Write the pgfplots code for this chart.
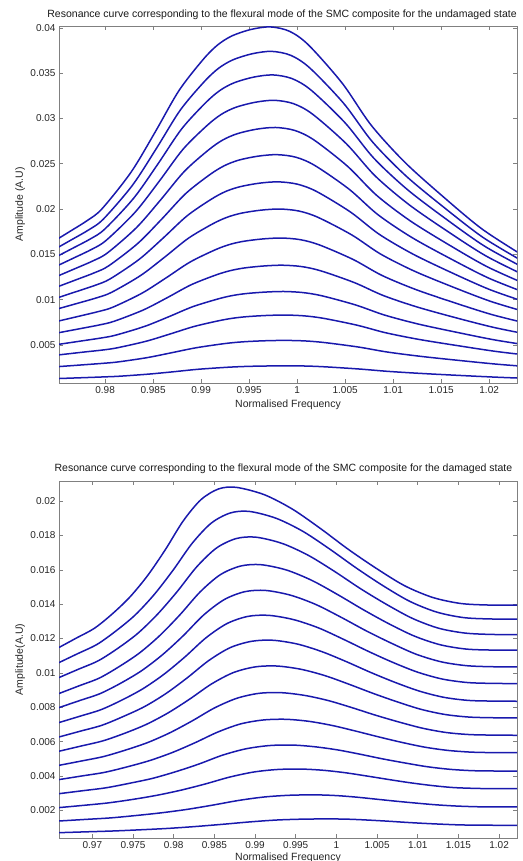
\documentclass[border=0pt]{standalone}
\usepackage{fontspec}
\setmainfont{Liberation Sans}
\usepackage{pgfplots}
\pgfplotsset{compat=1.18}
\definecolor{mblue}{rgb}{0.1,0.1,0.68}
\definecolor{axgray}{gray}{0.5}
\pgfplotsset{
  curvestyle/.style={mblue, solid, line width=1.5pt, smooth, mark=none},
  mystyle/.style={
    scale only axis, width=458pt, height=357pt,
    scaled ticks=false,
    axis line style={axgray, line width=0.6pt},
    tick style={axgray, line width=0.6pt},
    tick align=inside, major tick length=4pt,
    xticklabel pos=lower, yticklabel pos=left,
    xtick pos=both, ytick pos=both,
    tick label style={font=\fontsize{10}{12}\selectfont, text=black!85},
    label style={font=\fontsize{10.5}{12}\selectfont, text=black!85},
    title style={font=\fontsize{10.5}{12}\selectfont, text=black!90, anchor=center, yshift=-6pt},
    cycle list={curvestyle\\},
    clip=true,
  }
}
\begin{document}
\begin{tikzpicture}
\path[use as bounding box] (0pt,0pt) rectangle (522pt,-861pt);
% ---------------- undamaged ----------------
\begin{axis}[mystyle,
  at={(59pt,-26pt)}, anchor=north west,
  xmin=0.9752, xmax=1.0229, ymin=0.0008, ymax=0.0402,
  xtick={0.98,0.985,0.99,0.995,1,1.005,1.01,1.015,1.02},
  xticklabels={0.98,0.985,0.99,0.995,1,1.005,1.01,1.015,1.02},
  ytick={0.005,0.01,0.015,0.02,0.025,0.03,0.035,0.04},
  yticklabels={0.005,0.01,0.015,0.02,0.025,0.03,0.035,0.04},
  title={Resonance curve corresponding to the flexural mode of the SMC composite for the undamaged state},
  title style={at={(axis description cs:0.487,1.031)}},
  xlabel={Normalised Frequency},
  xlabel style={at={(axis description cs:0.5,-0.062)}, anchor=center},
  ylabel={Amplitude (A.U)},
  ylabel style={at={(axis description cs:-0.085,0.5)}, anchor=center},
]
\addplot[curvestyle] coordinates {(0.9727,0.01516) (0.9762,0.01744) (0.9782,0.01877) (0.9797,0.02005) (0.9827,0.02406) (0.9852,0.02847) (0.9877,0.03308) (0.9902,0.03649) (0.9917,0.03809) (0.9932,0.0391) (0.9952,0.03982) (0.9972,0.0401) (0.9992,0.03962) (1.0012,0.03809) (1.0047,0.03388) (1.0077,0.02927) (1.0112,0.02518) (1.0152,0.02137) (1.0192,0.01784) (1.0232,0.01508)};
\addplot[curvestyle] coordinates {(0.97284,0.01441) (0.97634,0.01651) (0.97834,0.01773) (0.97984,0.01891) (0.98284,0.02261) (0.98534,0.02668) (0.98784,0.03093) (0.99034,0.03407) (0.99184,0.03555) (0.99334,0.03648) (0.99534,0.03714) (0.99734,0.0374) (0.99934,0.03696) (1.00134,0.03555) (1.00484,0.03167) (1.00784,0.02742) (1.01134,0.02365) (1.01534,0.02014) (1.01934,0.01688) (1.02334,0.01433)};
\addplot[curvestyle] coordinates {(0.97298,0.01366) (0.97648,0.01559) (0.97848,0.01671) (0.97998,0.0178) (0.98298,0.0212) (0.98548,0.02494) (0.98798,0.02885) (0.99048,0.03174) (0.99198,0.0331) (0.99348,0.03395) (0.99548,0.03456) (0.99748,0.0348) (0.99948,0.03439) (1.00148,0.0331) (1.00498,0.02953) (1.00798,0.02562) (1.01148,0.02215) (1.01548,0.01892) (1.01948,0.01593) (1.02348,0.01359)};
\addplot[curvestyle] coordinates {(0.97312,0.01278) (0.97662,0.01454) (0.97862,0.01556) (0.98012,0.01655) (0.98312,0.01964) (0.98562,0.02304) (0.98812,0.0266) (0.99062,0.02922) (0.99212,0.03046) (0.99362,0.03123) (0.99562,0.03178) (0.99762,0.032) (0.99962,0.03163) (1.00162,0.03046) (1.00512,0.02721) (1.00812,0.02366) (1.01162,0.02051) (1.01562,0.01757) (1.01962,0.01485) (1.02362,0.01272)};
\addplot[curvestyle] coordinates {(0.97326,0.01179) (0.97676,0.01337) (0.97876,0.01429) (0.98026,0.01517) (0.98326,0.01794) (0.98576,0.02098) (0.98826,0.02416) (0.99076,0.02651) (0.99226,0.02762) (0.99376,0.02831) (0.99576,0.02881) (0.99776,0.029) (0.99976,0.02867) (1.00176,0.02762) (1.00526,0.02471) (1.00826,0.02153) (1.01176,0.01871) (1.01576,0.01608) (1.01976,0.01365) (1.02376,0.01174)};
\addplot[curvestyle] coordinates {(0.9734,0.01076) (0.9769,0.01216) (0.9789,0.01297) (0.9804,0.01375) (0.9834,0.0162) (0.9859,0.01889) (0.9884,0.02171) (0.9909,0.02379) (0.9924,0.02477) (0.9939,0.02539) (0.9959,0.02583) (0.9979,0.026) (0.9999,0.02571) (1.0019,0.02477) (1.0054,0.0222) (1.0084,0.01939) (1.0119,0.01689) (1.0159,0.01456) (1.0199,0.0124) (1.0239,0.01071)};
\addplot[curvestyle] coordinates {(0.97354,0.00968) (0.97704,0.0109) (0.97904,0.01161) (0.98054,0.0123) (0.98354,0.01444) (0.98604,0.01679) (0.98854,0.01925) (0.99104,0.02107) (0.99254,0.02193) (0.99404,0.02246) (0.99604,0.02285) (0.99804,0.023) (1.00004,0.02274) (1.00204,0.02193) (1.00554,0.01968) (1.00854,0.01722) (1.01204,0.01504) (1.01604,0.013) (1.02004,0.01112) (1.02404,0.00964)};
\addplot[curvestyle] coordinates {(0.97368,0.00857) (0.97718,0.00961) (0.97918,0.01022) (0.98068,0.01081) (0.98368,0.01265) (0.98618,0.01467) (0.98868,0.01678) (0.99118,0.01835) (0.99268,0.01908) (0.99418,0.01954) (0.99618,0.01987) (0.99818,0.02) (1.00018,0.01978) (1.00218,0.01908) (1.00568,0.01715) (1.00868,0.01504) (1.01218,0.01316) (1.01618,0.01141) (1.02018,0.0098) (1.02418,0.00853)};
\addplot[curvestyle] coordinates {(0.97382,0.00731) (0.97732,0.00818) (0.97932,0.00869) (0.98082,0.00917) (0.98382,0.0107) (0.98632,0.01238) (0.98882,0.01413) (0.99132,0.01543) (0.99282,0.01604) (0.99432,0.01642) (0.99632,0.01669) (0.99832,0.0168) (1.00032,0.01662) (1.00232,0.01604) (1.00582,0.01444) (1.00882,0.01268) (1.01232,0.01113) (1.01632,0.00968) (1.02032,0.00834) (1.02432,0.00728)};
\addplot[curvestyle] coordinates {(0.97396,0.00611) (0.97746,0.00681) (0.97946,0.00722) (0.98096,0.00762) (0.98396,0.00885) (0.98646,0.01021) (0.98896,0.01164) (0.99146,0.01269) (0.99296,0.01318) (0.99446,0.01349) (0.99646,0.01371) (0.99846,0.0138) (1.00046,0.01365) (1.00246,0.01318) (1.00596,0.01188) (1.00896,0.01046) (1.01246,0.0092) (1.01646,0.00802) (1.02046,0.00694) (1.02446,0.00608)};
\addplot[curvestyle] coordinates {(0.9741,0.0049) (0.9776,0.00545) (0.9796,0.00577) (0.9811,0.00608) (0.9841,0.00704) (0.9866,0.0081) (0.9891,0.00921) (0.9916,0.01003) (0.9931,0.01042) (0.9946,0.01066) (0.9966,0.01083) (0.9986,0.0109) (1.0006,0.01078) (1.0026,0.01042) (1.0061,0.00941) (1.0091,0.0083) (1.0126,0.00731) (1.0166,0.0064) (1.0206,0.00555) (1.0246,0.00488)};
\addplot[curvestyle] coordinates {(0.97424,0.00379) (0.97774,0.00421) (0.97974,0.00444) (0.98124,0.00468) (0.98424,0.0054) (0.98674,0.0062) (0.98924,0.00703) (0.99174,0.00765) (0.99324,0.00794) (0.99474,0.00812) (0.99674,0.00825) (0.99874,0.0083) (1.00074,0.00821) (1.00274,0.00794) (1.00624,0.00718) (1.00924,0.00634) (1.01274,0.0056) (1.01674,0.00492) (1.02074,0.00428) (1.02474,0.00378)};
\addplot[curvestyle] coordinates {(0.97438,0.00255) (0.97788,0.00282) (0.97988,0.00298) (0.98138,0.00313) (0.98438,0.0036) (0.98688,0.00413) (0.98938,0.00467) (0.99188,0.00507) (0.99338,0.00526) (0.99488,0.00538) (0.99688,0.00547) (0.99888,0.0055) (1.00088,0.00544) (1.00288,0.00526) (1.00638,0.00477) (1.00938,0.00422) (1.01288,0.00374) (1.01688,0.00329) (1.02088,0.00287) (1.02488,0.00254)};
\addplot[curvestyle] coordinates {(0.97452,0.00127) (0.97802,0.0014) (0.98002,0.00148) (0.98152,0.00155) (0.98452,0.00178) (0.98702,0.00203) (0.98952,0.0023) (0.99202,0.00249) (0.99352,0.00258) (0.99502,0.00264) (0.99702,0.00268) (0.99902,0.0027) (1.00102,0.00267) (1.00302,0.00258) (1.00652,0.00234) (1.00952,0.00208) (1.01302,0.00185) (1.01702,0.00163) (1.02102,0.00143) (1.02502,0.00127)};
\end{axis}
% ---------------- damaged ----------------
\begin{axis}[mystyle,
  at={(59pt,-481pt)}, anchor=north west,
  xmin=0.9659, xmax=1.0222, ymin=0.00039, ymax=0.02117,
  xtick={0.97,0.975,0.98,0.985,0.99,0.995,1,1.005,1.01,1.015,1.02},
  xticklabels={0.97,0.975,0.98,0.985,0.99,0.995,1,1.005,1.01,1.015,1.02},
  ytick={0.002,0.004,0.006,0.008,0.01,0.012,0.014,0.016,0.018,0.02},
  yticklabels={0.002,0.004,0.006,0.008,0.01,0.012,0.014,0.016,0.018,0.02},
  title={Resonance curve corresponding to the flexural mode of the SMC composite for the damaged state},
  title style={at={(axis description cs:0.49,1.034)}},
  xlabel={Normalised Frequency},
  xlabel style={at={(axis description cs:0.5,-0.056)}, anchor=center},
  ylabel={Amplitude(A.U)},
  ylabel style={at={(axis description cs:-0.085,0.5)}, anchor=center},
]
\addplot[curvestyle] coordinates {(0.9659,0.01148) (0.96808,0.01204) (0.97026,0.0126) (0.97244,0.01343) (0.97462,0.01442) (0.9768,0.01567) (0.97898,0.01718) (0.98116,0.01884) (0.98334,0.02008) (0.98552,0.02071) (0.9877,0.0208) (0.99115,0.02037) (0.9946,0.01953) (0.99805,0.0184) (1.0015,0.01718) (1.00495,0.01607) (1.0084,0.01507) (1.01185,0.01439) (1.0153,0.01404) (1.01875,0.01395) (1.0222,0.01394)};
\addplot[curvestyle] coordinates {(0.9659,0.0106) (0.96824,0.01113) (0.97058,0.01166) (0.97292,0.01245) (0.97526,0.01337) (0.9776,0.01456) (0.97994,0.01599) (0.98228,0.01755) (0.98462,0.01872) (0.98696,0.01931) (0.9893,0.0194) (0.99259,0.019) (0.99588,0.01824) (0.99917,0.01721) (1.00246,0.0161) (1.00575,0.01507) (1.00904,0.01416) (1.01233,0.01354) (1.01562,0.01322) (1.01891,0.01314) (1.0222,0.01313)};
\addplot[curvestyle] coordinates {(0.9659,0.00973) (0.96832,0.01022) (0.97074,0.01071) (0.97316,0.01144) (0.97558,0.0123) (0.978,0.01341) (0.98042,0.01473) (0.98284,0.01618) (0.98526,0.01727) (0.98768,0.01782) (0.9901,0.0179) (0.99331,0.01754) (0.99652,0.01685) (0.99973,0.01592) (1.00294,0.01491) (1.00615,0.01399) (1.00936,0.01317) (1.01257,0.0126) (1.01578,0.01232) (1.01899,0.01224) (1.0222,0.01223)};
\addplot[curvestyle] coordinates {(0.9659,0.0088) (0.96838,0.00925) (0.97086,0.0097) (0.97334,0.01038) (0.97582,0.01117) (0.9783,0.01218) (0.98078,0.01339) (0.98326,0.01472) (0.98574,0.01572) (0.98822,0.01622) (0.9907,0.0163) (0.99385,0.01599) (0.997,0.01538) (1.00015,0.01456) (1.0033,0.01368) (1.00645,0.01286) (1.0096,0.01214) (1.01275,0.01164) (1.0159,0.01139) (1.01905,0.01133) (1.0222,0.01132)};
\addplot[curvestyle] coordinates {(0.9659,0.00798) (0.96844,0.00839) (0.97098,0.0088) (0.97352,0.00941) (0.97606,0.01013) (0.9786,0.01105) (0.98114,0.01215) (0.98368,0.01337) (0.98622,0.01427) (0.98876,0.01473) (0.9913,0.0148) (0.99439,0.01452) (0.99748,0.01398) (1.00057,0.01324) (1.00366,0.01245) (1.00675,0.01173) (1.00984,0.01108) (1.01293,0.01064) (1.01602,0.01042) (1.01911,0.01036) (1.0222,0.01035)};
\addplot[curvestyle] coordinates {(0.9659,0.00711) (0.96848,0.00748) (0.97106,0.00786) (0.97364,0.00842) (0.97622,0.00908) (0.9788,0.00992) (0.98138,0.01093) (0.98396,0.01204) (0.98654,0.01287) (0.98912,0.01329) (0.9917,0.01335) (0.99475,0.0131) (0.9978,0.01262) (1.00085,0.01196) (1.0039,0.01126) (1.00695,0.01061) (1.01,0.01004) (1.01305,0.00964) (1.0161,0.00944) (1.01915,0.00939) (1.0222,0.00938)};
\addplot[curvestyle] coordinates {(0.9659,0.00627) (0.96853,0.00661) (0.97116,0.00695) (0.97379,0.00746) (0.97642,0.00804) (0.97905,0.0088) (0.98168,0.00972) (0.98431,0.01072) (0.98694,0.01147) (0.98957,0.01184) (0.9922,0.0119) (0.9952,0.01168) (0.9982,0.01124) (1.0012,0.01066) (1.0042,0.01003) (1.0072,0.00945) (1.0102,0.00894) (1.0132,0.00858) (1.0162,0.0084) (1.0192,0.00836) (1.0222,0.00835)};
\addplot[curvestyle] coordinates {(0.9659,0.00544) (0.96858,0.00574) (0.97126,0.00604) (0.97394,0.00648) (0.97662,0.007) (0.9793,0.00767) (0.98198,0.00848) (0.98466,0.00936) (0.98734,0.01002) (0.99002,0.01035) (0.9927,0.0104) (0.99565,0.01021) (0.9986,0.00984) (1.00155,0.00934) (1.0045,0.00881) (1.00745,0.00832) (1.0104,0.00788) (1.01335,0.00758) (1.0163,0.00743) (1.01925,0.00739) (1.0222,0.00738)};
\addplot[curvestyle] coordinates {(0.9659,0.00462) (0.96863,0.00487) (0.97136,0.00513) (0.97409,0.00551) (0.97682,0.00595) (0.97955,0.00652) (0.98228,0.00721) (0.98501,0.00796) (0.98774,0.00852) (0.99047,0.00881) (0.9932,0.00885) (0.9961,0.00869) (0.999,0.00839) (1.0019,0.00798) (1.0048,0.00754) (1.0077,0.00714) (1.0106,0.00678) (1.0135,0.00653) (1.0164,0.00641) (1.0193,0.00638) (1.0222,0.00637)};
\addplot[curvestyle] coordinates {(0.9659,0.00379) (0.96869,0.004) (0.97148,0.00421) (0.97427,0.00453) (0.97706,0.0049) (0.97985,0.00537) (0.98264,0.00594) (0.98543,0.00656) (0.98822,0.00703) (0.99101,0.00726) (0.9938,0.0073) (0.99664,0.00718) (0.99948,0.00694) (1.00232,0.00662) (1.00516,0.00628) (1.008,0.00596) (1.01084,0.00568) (1.01368,0.00549) (1.01652,0.00539) (1.01936,0.00536) (1.0222,0.00536)};
\addplot[curvestyle] coordinates {(0.9659,0.00297) (0.96877,0.00314) (0.97164,0.00331) (0.97451,0.00357) (0.97738,0.00386) (0.98025,0.00425) (0.98312,0.0047) (0.98599,0.00521) (0.98886,0.00558) (0.99173,0.00577) (0.9946,0.0058) (0.99736,0.0057) (1.00012,0.00552) (1.00288,0.00527) (1.00564,0.005) (1.0084,0.00476) (1.01116,0.00454) (1.01392,0.00439) (1.01668,0.00431) (1.01944,0.00429) (1.0222,0.00429)};
\addplot[curvestyle] coordinates {(0.9659,0.00216) (0.96889,0.00229) (0.97188,0.00243) (0.97487,0.00263) (0.97786,0.00287) (0.98085,0.00317) (0.98384,0.00353) (0.98683,0.00393) (0.98982,0.00423) (0.99281,0.00438) (0.9958,0.0044) (0.99844,0.00433) (1.00108,0.00419) (1.00372,0.004) (1.00636,0.0038) (1.009,0.00361) (1.01164,0.00345) (1.01428,0.00333) (1.01692,0.00328) (1.01956,0.00326) (1.0222,0.00326)};
\addplot[curvestyle] coordinates {(0.9659,0.00138) (0.96906,0.00147) (0.97222,0.00156) (0.97538,0.0017) (0.97854,0.00186) (0.9817,0.00206) (0.98486,0.00231) (0.98802,0.00258) (0.99118,0.00278) (0.99434,0.00288) (0.9975,0.0029) (0.99997,0.00286) (1.00244,0.00277) (1.00491,0.00265) (1.00738,0.00253) (1.00985,0.00242) (1.01232,0.00232) (1.01479,0.00225) (1.01726,0.00221) (1.01973,0.0022) (1.0222,0.0022)};
\addplot[curvestyle] coordinates {(0.9659,0.0007) (0.96926,0.00075) (0.97262,0.0008) (0.97598,0.00087) (0.97934,0.00095) (0.9827,0.00106) (0.98606,0.00119) (0.98942,0.00133) (0.99278,0.00144) (0.99614,0.00149) (0.9995,0.0015) (1.00177,0.00148) (1.00404,0.00143) (1.00631,0.00137) (1.00858,0.0013) (1.01085,0.00124) (1.01312,0.00119) (1.01539,0.00115) (1.01766,0.00114) (1.01993,0.00113) (1.0222,0.00113)};
\end{axis}
\end{tikzpicture}
\end{document}
